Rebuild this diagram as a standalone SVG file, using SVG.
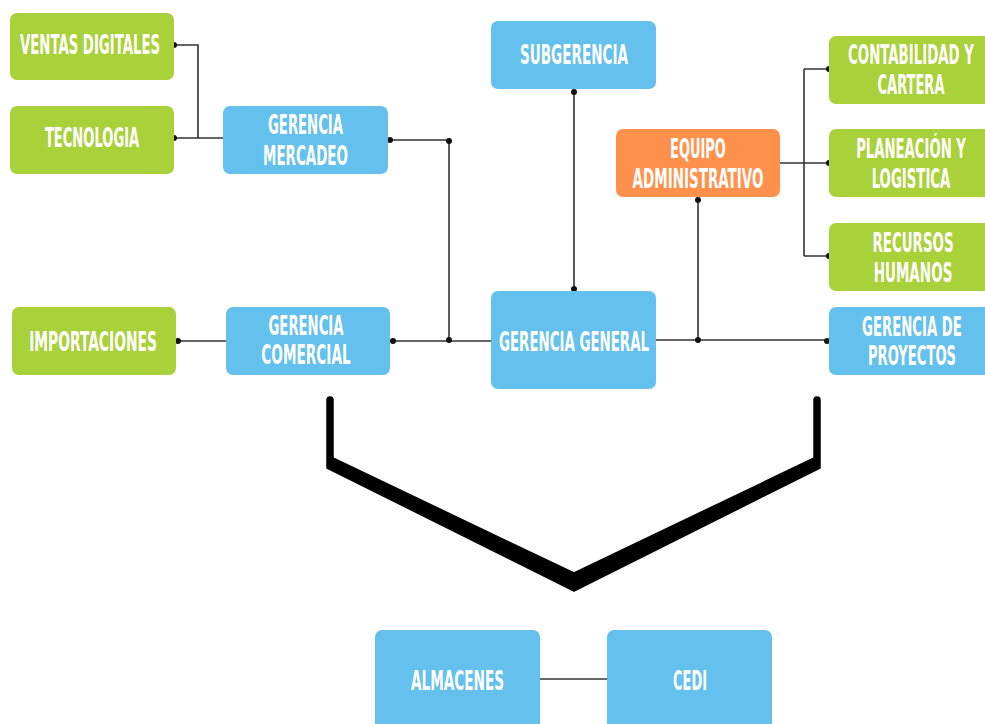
<svg xmlns="http://www.w3.org/2000/svg" width="985" height="724" viewBox="0 0 985 724">
<style>
.g{fill:#A8D13A}
.b{fill:#64C0EC}
.o{fill:#FF914D}
.t{fill:#fff;font-family:"DejaVu Sans Condensed","Liberation Sans Narrow","Liberation Sans",sans-serif;font-weight:bold;font-size:26px;text-anchor:middle}
.ln{stroke:#333;stroke-width:1.6;fill:none}
.d{fill:#111}
</style>
<rect width="985" height="724" fill="#fff"/>
<g id="connectors">
<path class="ln" d="M174 45H198V138M174 138H223"/>
<path class="ln" d="M390 140H449V340M178 341H226M393 341H491"/>
<path class="ln" d="M574 92V289M698 200V340M656 340H827"/>
<path class="ln" d="M780 163H804M804 69V256M804 69H829M804 163H829M804 256H829"/>
<path class="ln" d="M540 679H607"/>
<g class="d">
<circle cx="174" cy="45" r="3"/><circle cx="174" cy="138" r="3"/>
<circle cx="390" cy="140" r="3"/><circle cx="449" cy="141" r="3"/><circle cx="449" cy="340" r="3"/>
<circle cx="178" cy="341" r="3"/><circle cx="393" cy="341" r="3"/>
<circle cx="574" cy="92" r="3"/><circle cx="574" cy="289" r="3"/>
<circle cx="698" cy="200" r="3"/><circle cx="698" cy="340" r="3"/><circle cx="827" cy="341" r="3"/>
<circle cx="829" cy="69" r="3"/><circle cx="829" cy="163" r="3"/><circle cx="829" cy="256" r="3"/>
</g>
</g>
<g id="bracket">
<path d="M327 400A3 3 0 0 1 333 400V458L574 573L814 458V400A3 3 0 0 1 820 400V468L574 591L327 468Z" fill="#000" stroke="#000" stroke-width="1.5" stroke-linejoin="round"/>
</g>
<g id="ventas"><rect class="g" x="10" y="13" width="164" height="67" rx="7"/><text class="t" transform="translate(90 54) scale(0.62 1)" textLength="226" lengthAdjust="spacingAndGlyphs">VENTAS DIGITALES</text></g>
<g id="tecnologia"><rect class="g" x="10" y="106" width="164" height="68" rx="7"/><text class="t" transform="translate(92 147) scale(0.62 1)" textLength="152" lengthAdjust="spacingAndGlyphs">TECNOLOGIA</text></g>
<g id="mercadeo"><rect class="b" x="223" y="106" width="165" height="68" rx="7"/><text class="t" transform="translate(305.5 134) scale(0.62 1)" textLength="121" lengthAdjust="spacingAndGlyphs">GERENCIA</text><text class="t" transform="translate(305.5 165) scale(0.62 1)" textLength="137" lengthAdjust="spacingAndGlyphs">MERCADEO</text></g>
<g id="subgerencia"><rect class="b" x="491" y="21" width="165" height="68" rx="7"/><text class="t" transform="translate(574 64) scale(0.62 1)" textLength="174" lengthAdjust="spacingAndGlyphs">SUBGERENCIA</text></g>
<g id="equipo"><rect class="o" x="616" y="129" width="164" height="68" rx="7"/><text class="t" transform="translate(698 158) scale(0.62 1)" textLength="90" lengthAdjust="spacingAndGlyphs">EQUIPO</text><text class="t" transform="translate(698 188) scale(0.62 1)" textLength="211" lengthAdjust="spacingAndGlyphs">ADMINISTRATIVO</text></g>
<g id="contabilidad"><rect class="g" x="829" y="36" width="170" height="68" rx="7"/><text class="t" transform="translate(911 64) scale(0.62 1)" textLength="203" lengthAdjust="spacingAndGlyphs">CONTABILIDAD Y</text><text class="t" transform="translate(911 94) scale(0.62 1)" textLength="108" lengthAdjust="spacingAndGlyphs">CARTERA</text></g>
<g id="planeacion"><rect class="g" x="829" y="129" width="170" height="68" rx="7"/><text class="t" transform="translate(911 158) scale(0.62 1)" textLength="177" lengthAdjust="spacingAndGlyphs">PLANEACIÓN Y</text><text class="t" transform="translate(911 188) scale(0.62 1)" textLength="127" lengthAdjust="spacingAndGlyphs">LOGISTICA</text></g>
<g id="recursos"><rect class="g" x="829" y="223" width="170" height="68" rx="7"/><text class="t" transform="translate(913 252) scale(0.62 1)" textLength="131" lengthAdjust="spacingAndGlyphs">RECURSOS</text><text class="t" transform="translate(913 282) scale(0.62 1)" textLength="127" lengthAdjust="spacingAndGlyphs">HUMANOS</text></g>
<g id="importaciones"><rect class="g" x="12" y="307" width="164" height="68" rx="7"/><text class="t" transform="translate(93 351) scale(0.62 1)" textLength="206" lengthAdjust="spacingAndGlyphs">IMPORTACIONES</text></g>
<g id="comercial"><rect class="b" x="226" y="307" width="164" height="68" rx="7"/><text class="t" transform="translate(306 335) scale(0.62 1)" textLength="121" lengthAdjust="spacingAndGlyphs">GERENCIA</text><text class="t" transform="translate(306 364) scale(0.62 1)" textLength="144" lengthAdjust="spacingAndGlyphs">COMERCIAL</text></g>
<g id="general"><rect class="b" x="491" y="291" width="165" height="98" rx="7"/><text class="t" transform="translate(574 351) scale(0.62 1)" textLength="242" lengthAdjust="spacingAndGlyphs">GERENCIA GENERAL</text></g>
<g id="proyectos"><rect class="b" x="829" y="307" width="170" height="68" rx="7"/><text class="t" transform="translate(912 336) scale(0.62 1)" textLength="161" lengthAdjust="spacingAndGlyphs">GERENCIA DE</text><text class="t" transform="translate(912 365) scale(0.62 1)" textLength="142" lengthAdjust="spacingAndGlyphs">PROYECTOS</text></g>
<g id="almacenes"><rect class="b" x="375" y="630" width="165" height="110" rx="7"/><text class="t" transform="translate(457.5 690) scale(0.62 1)" textLength="150" lengthAdjust="spacingAndGlyphs">ALMACENES</text></g>
<g id="cedi"><rect class="b" x="607" y="630" width="165" height="110" rx="7"/><text class="t" transform="translate(690 690) scale(0.62 1)" textLength="55" lengthAdjust="spacingAndGlyphs">CEDI</text></g>
</svg>
